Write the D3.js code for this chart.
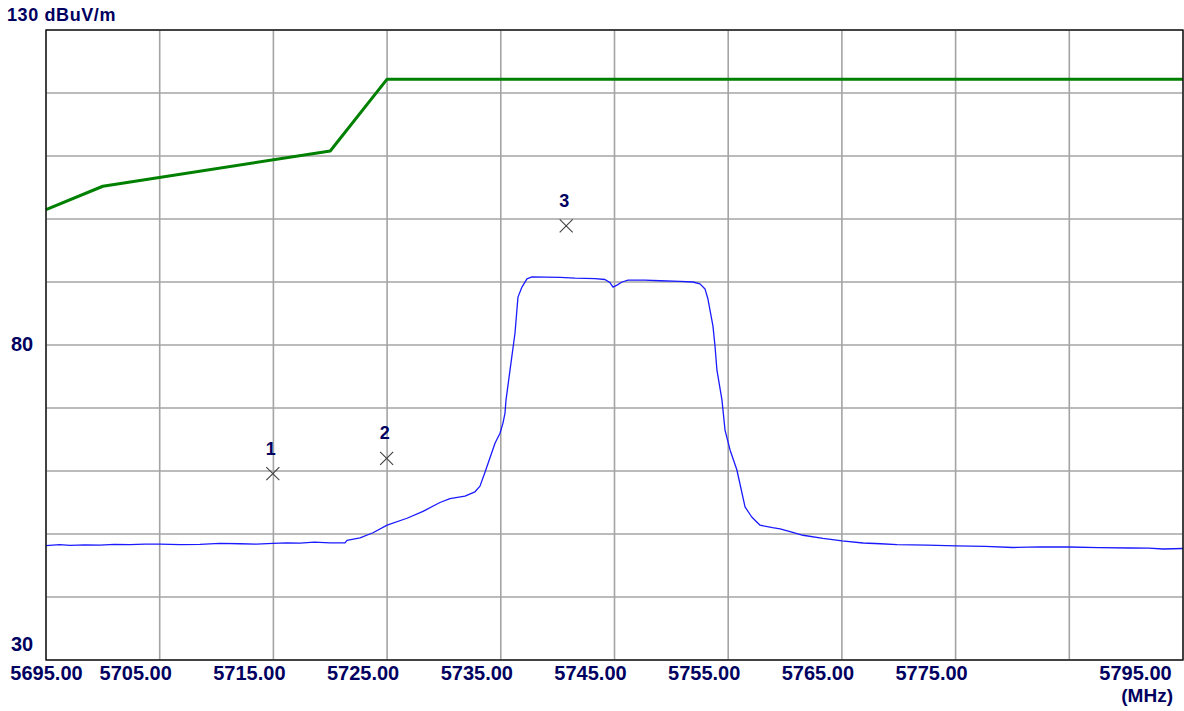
<!DOCTYPE html>
<html>
<head>
<meta charset="utf-8">
<script src="https://cdn.jsdelivr.net/npm/d3@7/dist/d3.min.js"></script>
<style>
  html, body { margin: 0; padding: 0; background: #ffffff; }
  svg { display: block; }
  text { font-family: "Liberation Sans", Arial, sans-serif; font-weight: bold; fill: #000060; }
</style>
</head>
<body>
<svg id="chart" width="1184" height="711"></svg>
<script>
// ---- data ----
const xTickLabels = [5695, 5705, 5715, 5725, 5735, 5745, 5755, 5765, 5775, 5795];
const yTickLabels = [30, 80, 130];

const limitFreq  = [5695, 5700, 5720, 5725, 5795];
const limitLevel = [101.5, 105.2, 110.8, 122.2, 122.2];

const traceFreq = [
  5695.00, 5696.20, 5697.11, 5698.40, 5699.75, 5701.00, 5702.39, 5703.70, 5705.03, 5706.80,
  5708.54, 5710.30, 5712.06, 5713.50, 5714.96, 5716.20, 5717.34, 5718.60, 5719.98, 5721.30,
  5721.47, 5722.62, 5723.76, 5725.00, 5726.75, 5728.16, 5729.65, 5730.53, 5731.85, 5732.73,
  5733.17, 5733.61, 5734.05, 5734.49, 5734.93, 5735.19, 5735.37, 5735.46, 5735.81, 5736.25,
  5736.51, 5736.86, 5737.30, 5737.74, 5740.21, 5741.53, 5743.29, 5744.16, 5744.60, 5744.87,
  5745.22, 5745.66, 5746.19, 5747.68, 5749.00, 5750.76, 5751.90, 5752.52, 5752.96, 5753.22,
  5753.66, 5753.84, 5754.01, 5754.45, 5754.72, 5755.17, 5755.76, 5756.48, 5757.07, 5757.80,
  5758.90, 5759.56, 5760.60, 5761.58, 5763.34, 5765.01, 5766.86, 5768.40, 5769.85, 5772.50,
  5775.04, 5777.60, 5780.05, 5782.50, 5784.97, 5787.60, 5790.34, 5792.00, 5793.24, 5795.00
];
const traceLevel = [
  48.14, 48.30, 48.20, 48.28, 48.25, 48.35, 48.30, 48.40, 48.40, 48.30,
  48.35, 48.50, 48.45, 48.40, 48.50, 48.60, 48.55, 48.70, 48.60, 48.60,
  49.00, 49.40, 50.20, 51.40, 52.50, 53.60, 55.00, 55.60, 56.00, 56.70,
  57.60, 59.80, 62.10, 64.40, 66.00, 67.60, 69.20, 71.30, 76.00, 81.90,
  87.60, 89.20, 90.50, 90.80, 90.75, 90.60, 90.55, 90.40, 89.90, 89.20,
  89.50, 90.00, 90.30, 90.30, 90.20, 90.10, 90.00, 89.70, 88.90, 87.30,
  83.00, 79.80, 76.00, 71.30, 66.50, 63.30, 60.20, 54.30, 52.70, 51.40,
  51.00, 50.80, 50.30, 49.80, 49.30, 48.90, 48.57, 48.45, 48.30, 48.25,
  48.10, 48.05, 47.86, 47.95, 47.94, 47.85, 47.78, 47.75, 47.62, 47.70
];

const markerId    = ["1", "2", "3"];
const markerFreq  = [5714.95, 5724.96, 5740.75];
const markerLevel = [59.6, 62.0, 98.9];

// ---- layout ----
const svg = d3.select("#chart");
const L = 46, R = 1183, T = 30, B = 660;

const x = d3.scaleLinear().domain([5695, 5795]).range([L, R]);
const y = d3.scaleLinear().domain([30, 130]).range([B, T]);

// grid
const gridX = d3.range(5695, 5796, 10);
const gridY = d3.range(30, 131, 10);
const g = svg.append("g");
g.selectAll(".gx").data(gridX).enter().append("line")
  .attr("x1", d => x(d)).attr("x2", d => x(d)).attr("y1", T).attr("y2", B)
  .attr("stroke", "#a4a4a4").attr("stroke-width", 1.6);
g.selectAll(".gy").data(gridY).enter().append("line")
  .attr("x1", L).attr("x2", R).attr("y1", d => y(d)).attr("y2", d => y(d))
  .attr("stroke", "#a4a4a4").attr("stroke-width", 1.6);

// limit line
const line = d3.line().x(d => x(d[0])).y(d => y(d[1]));
svg.append("path")
  .datum(limitFreq.map((f, i) => [f, limitLevel[i]]))
  .attr("d", line).attr("fill", "none")
  .attr("stroke", "#008000").attr("stroke-width", 3).attr("stroke-linejoin", "round");

// trace
svg.append("path")
  .datum(traceFreq.map((f, i) => [f, traceLevel[i]]))
  .attr("d", line).attr("fill", "none")
  .attr("stroke", "#1a1aff").attr("stroke-width", 1.3).attr("stroke-linejoin", "round");

// frame
svg.append("rect").attr("x", L).attr("y", T).attr("width", R - L).attr("height", B - T)
  .attr("fill", "none").attr("stroke", "#111").attr("stroke-width", 1.4);

// markers
const mk = svg.append("g");
markerFreq.forEach((f, i) => {
  const cx = x(f), cy = y(markerLevel[i]), s = 6.5;
  mk.append("line").attr("x1", cx - s).attr("y1", cy - s).attr("x2", cx + s).attr("y2", cy + s)
    .attr("stroke", "#404040").attr("stroke-width", 1.1);
  mk.append("line").attr("x1", cx - s).attr("y1", cy + s).attr("x2", cx + s).attr("y2", cy - s)
    .attr("stroke", "#404040").attr("stroke-width", 1.1);
  mk.append("text").attr("x", cx - 2).attr("y", cy - 19)
    .attr("text-anchor", "middle").attr("font-size", 18).text(markerId[i]);
});

// x tick labels
const halfW = 36.5;
svg.selectAll(".xl").data(xTickLabels).enter().append("text")
  .attr("x", d => Math.min(Math.max(x(d) - 24, 10 + halfW), 1172 - halfW))
  .attr("y", 680)
  .attr("text-anchor", "middle").attr("font-size", 20)
  .text(d => d3.format(".2f")(d));

svg.append("text").attr("x", 1173).attr("y", 702).attr("text-anchor", "end")
  .attr("font-size", 19).text("(MHz)");

// y tick labels
yTickLabels.forEach(v => {
  if (v === 130) {
    svg.append("text").attr("x", 7).attr("y", 21).attr("font-size", 18)
      .attr("letter-spacing", 0.6).text(v + " dBuV/m");
  } else if (v === 30) {
    svg.append("text").attr("x", 11).attr("y", y(v) - 9).attr("font-size", 20).text(v);
  } else {
    svg.append("text").attr("x", 11).attr("y", y(v) + 6).attr("font-size", 20).text(v);
  }
});
</script>
</body>
</html>
